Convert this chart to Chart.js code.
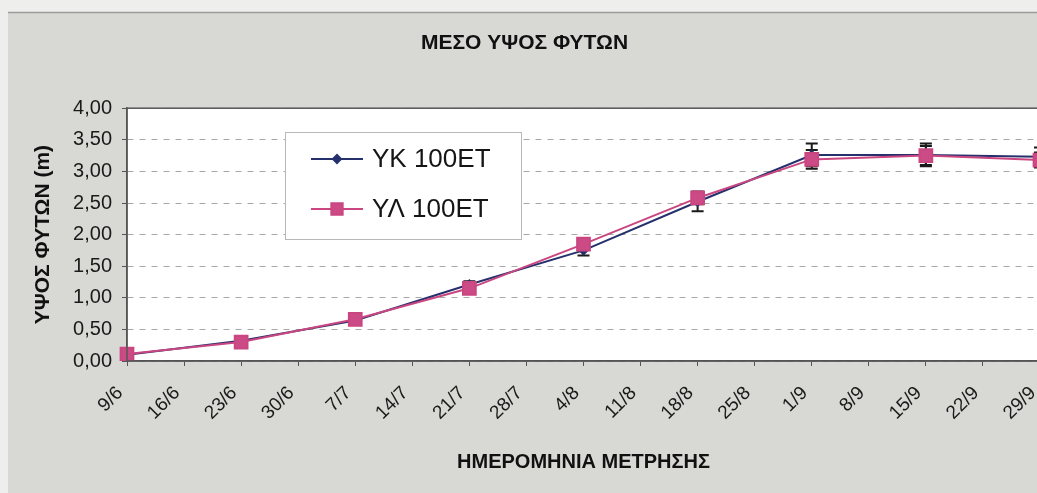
<!DOCTYPE html>
<html>
<head>
<meta charset="utf-8">
<script src="https://cdn.jsdelivr.net/npm/chart.js@4/dist/chart.umd.min.js"></script>
<style>
html,body{margin:0;padding:0;overflow:hidden;background:#eeeeec;}
#wrap{position:absolute;left:0;top:0;width:1051px;height:493px;}
</style>
</head>
<body>
<div id="wrap"><canvas id="c"></canvas></div>
<script>
const categories = ['9/6','16/6','23/6','30/6','7/7','14/7','21/7','28/7','4/8','11/8','18/8','25/8','1/9','8/9','15/9','22/9','29/9'];
const ykValues = [0.10, null, 0.32, null, 0.64, null, 1.21, null, 1.75, null, 2.52, null, 3.26, null, 3.26, null, 3.23];
const ylValues = [0.11, null, 0.30, null, 0.66, null, 1.15, null, 1.85, null, 2.58, null, 3.19, null, 3.25, null, 3.18];
const ykErrors = [0.02, null, 0.04, null, 0.05, null, 0.05, null, 0.08, null, 0.15, null, 0.18, null, 0.18, null, 0.15];
const ylErrors = [0.02, null, 0.04, null, 0.04, null, 0.05, null, 0.05, null, 0.10, null, 0.15, null, 0.15, null, 0.12];
const yTicks = [0, 0.5, 1, 1.5, 2, 2.5, 3, 3.5, 4];
const seriesLabels = ['ΥΚ 100ΕΤ', 'ΥΛ 100ΕΤ'];

const FONT = "'Liberation Sans', Arial, sans-serif";

const bgPlugin = {
  id: 'bg',
  beforeDraw(chart) {
    const ctx = chart.ctx, a = chart.chartArea;
    ctx.save();
    ctx.fillStyle = '#eeeeec';
    ctx.fillRect(0, 0, chart.width, chart.height);
    ctx.fillStyle = '#d8d8d5';
    ctx.fillRect(8, 12, chart.width - 8, chart.height - 12);
    ctx.strokeStyle = '#9a9a98';
    ctx.lineWidth = 1.5;
    ctx.beginPath(); ctx.moveTo(8, 12.5); ctx.lineTo(chart.width, 12.5); ctx.stroke();
    ctx.fillStyle = '#ffffff';
    ctx.fillRect(a.left, a.top, a.right - a.left, a.bottom - a.top);
    ctx.restore();
  },
  afterDraw(chart) {
    const ctx = chart.ctx, a = chart.chartArea;
    ctx.save();
    ctx.strokeStyle = '#555';
    ctx.lineWidth = 1.5;
    ctx.strokeRect(a.left, a.top, a.right - a.left, a.bottom - a.top);
    ctx.restore();
  }
};

const errorBarPlugin = {
  id: 'errbars',
  beforeDatasetsDraw(chart) {
    const ctx = chart.ctx;
    const xs = chart.scales.x, ys = chart.scales.y;
    const sets = [[ykValues, ykErrors], [ylValues, ylErrors]];
    ctx.save();
    ctx.strokeStyle = '#1a1a1a';
    ctx.lineWidth = 2;
    sets.forEach(([vals, errs]) => {
      vals.forEach((v, i) => {
        if (v === null || errs[i] === null) return;
        const x = xs.getPixelForValue(i);
        const y1 = ys.getPixelForValue(v - errs[i]);
        const y2 = ys.getPixelForValue(v + errs[i]);
        ctx.beginPath();
        ctx.moveTo(x, y1); ctx.lineTo(x, y2);
        ctx.moveTo(x - 6, y1); ctx.lineTo(x + 6, y1);
        ctx.moveTo(x - 6, y2); ctx.lineTo(x + 6, y2);
        ctx.stroke();
      });
    });
    ctx.restore();
  }
};

const legendPlugin = {
  id: 'boxLegend',
  afterDraw(chart) {
    const ctx = chart.ctx;
    const bx = 285, by = 132, bw = 236, bh = 107;
    ctx.save();
    ctx.fillStyle = '#ffffff';
    ctx.fillRect(bx, by, bw, bh);
    ctx.strokeStyle = '#b8b8b8';
    ctx.lineWidth = 1;
    ctx.strokeRect(bx + 0.5, by + 0.5, bw, bh);
    chart.data.datasets.forEach((ds, i) => {
      const y = 159 + i * 50;
      ctx.strokeStyle = ds.borderColor;
      ctx.lineWidth = 2;
      ctx.beginPath(); ctx.moveTo(311, y); ctx.lineTo(363, y); ctx.stroke();
      ctx.fillStyle = ds.pointBackgroundColor;
      ctx.strokeStyle = ds.pointBorderColor;
      Chart.helpers.drawPoint(ctx, {pointStyle: ds.pointStyle, radius: i === 0 ? 4 : 8, borderWidth: 1, rotation: 0}, 337, y);
      ctx.fillStyle = '#151515';
      ctx.font = "26px " + FONT;
      ctx.textBaseline = 'middle';
      ctx.textAlign = 'left';
      ctx.fillText(ds.label, 372, y + 1);
    });
    ctx.restore();
  }
};

new Chart(document.getElementById('c'), {
  type: 'line',
  data: {
    labels: categories,
    datasets: [
      {
        label: seriesLabels[0],
        data: ykValues,
        borderColor: '#25306c',
        backgroundColor: '#25306c',
        pointBackgroundColor: '#25306c',
        pointBorderColor: '#25306c',
        pointStyle: 'rectRot',
        pointRadius: 4,
        borderWidth: 2,
        spanGaps: true,
        order: 2
      },
      {
        label: seriesLabels[1],
        data: ylValues,
        borderColor: '#c94680',
        backgroundColor: '#c94680',
        pointBackgroundColor: '#cc4a85',
        pointBorderColor: '#c94680',
        pointStyle: 'rect',
        pointRadius: 9,
        borderWidth: 2,
        spanGaps: true,
        order: 1
      }
    ]
  },
  options: {
    responsive: true,
    maintainAspectRatio: false,
    animation: false,
    devicePixelRatio: 1,
    layout: {padding: {left: 0, right: 2, top: 0, bottom: 0}},
    plugins: {
      legend: {display: false},
      tooltip: {enabled: false},
      title: {
        display: true,
        text: 'ΜΕΣΟ ΥΨΟΣ ΦΥΤΩΝ',
        color: '#111',
        font: {family: FONT, size: 21, weight: 'bold'},
        padding: {top: 31, bottom: 52}
      }
    },
    scales: {
      x: {
        type: 'category',
        offset: false,
        grid: {display: true, drawOnChartArea: false, tickLength: 5, color: '#555'},
        border: {display: true, color: '#555', width: 1.5},
        ticks: {
          autoSkip: false,
          minRotation: 45, maxRotation: 45,
          padding: 16,
          labelOffset: -7,
          color: '#1a1a1a',
          font: {family: FONT, size: 19}
        },
        title: {
          display: true,
          text: 'ΗΜΕΡΟΜΗΝΙΑ ΜΕΤΡΗΣΗΣ',
          color: '#111',
          font: {family: FONT, size: 20, weight: 'bold'},
          padding: {top: 0, bottom: 19}
        },
        afterFit(scale) { scale.height = 132; scale.paddingRight = 0; scale.paddingLeft = 0; }
      },
      y: {
        min: 0, max: 4,
        afterBuildTicks(scale) { scale.ticks = yTicks.map(v => ({value: v})); },
        grid: {
          color: '#a8a8a8',
          lineWidth: 1,
          tickLength: 5,
          tickColor: '#555'
        },
        border: {display: true, color: '#555', width: 1.5, dash: [6, 6]},
        ticks: {
          padding: 10,
          color: '#1a1a1a',
          font: {family: FONT, size: 20},
          callback: (v) => Number(v).toFixed(2).replace('.', ',')
        },
        title: {
          display: true,
          text: 'ΥΨΟΣ ΦΥΤΩΝ (m)',
          color: '#111',
          font: {family: FONT, size: 21, weight: 'bold'},
          padding: {top: 31, bottom: 0}
        },
        afterFit(scale) { scale.width = 127; }
      }
    }
  },
  plugins: [bgPlugin, errorBarPlugin, legendPlugin]
});
</script>
</body>
</html>
